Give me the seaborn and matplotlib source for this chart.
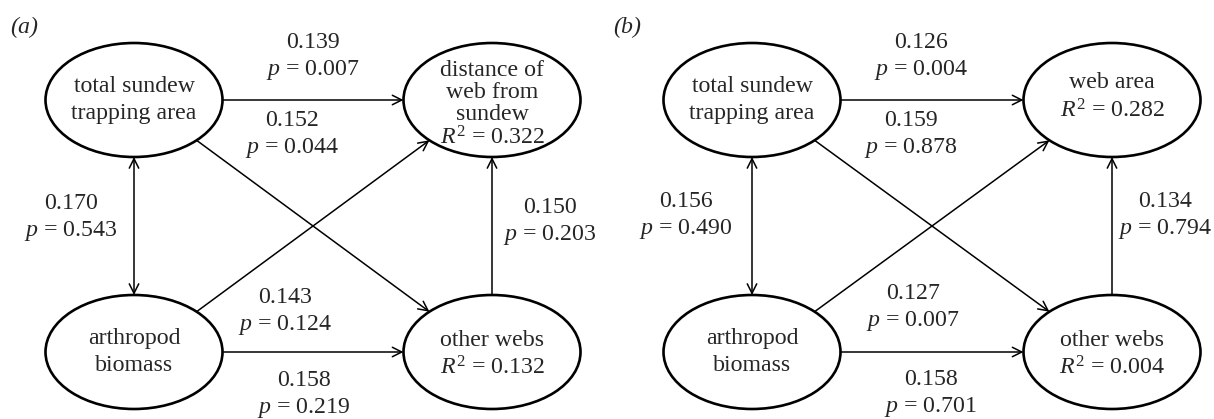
import numpy as np
import matplotlib
matplotlib.use("Agg")
import matplotlib.pyplot as plt
from matplotlib.patches import Ellipse
import seaborn as sns

sns.set_theme(style="white")
plt.rcParams["font.family"] = ["Liberation Serif", "DejaVu Serif"]
plt.rcParams["mathtext.fontset"] = "custom"
plt.rcParams["mathtext.rm"] = "Liberation Serif"
plt.rcParams["mathtext.it"] = "Liberation Serif:italic"

# ---- data ----
panels = ["a", "b"]
response_names = [["distance of", "web from", "sundew"], ["web area"]]
r2_response = [0.322, 0.282]
r2_other = [0.132, 0.004]

# edge labels: (coefficient, p value) per panel
coef_top = [0.139, 0.126]          # sundew -> response
p_top = [0.007, 0.004]
coef_cross_top = [0.152, 0.159]
p_cross_top = [0.044, 0.878]
coef_left = [0.170, 0.156]         # sundew <-> arthropod
p_left = [0.543, 0.490]
coef_right = [0.150, 0.134]        # other webs -> response
p_right = [0.203, 0.794]
coef_cross_bottom = [0.143, 0.127]
p_cross_bottom = [0.124, 0.007]
coef_bottom = [0.158, 0.158]       # arthropod -> other webs
p_bottom = [0.219, 0.701]

# ---- layout (pixel coordinates) ----
W, H = 1214, 419
EW, EH = 177, 114
col_x = [(134, 492), (752, 1112)]
row_y = (100, 352)
label_xy = [
    dict(tag=(24, 27), top=(313, 42), ctop=(292, 120), left=(71, 203),
         right=(550, 207), cbot=(285, 297), bot=(304, 380)),
    dict(tag=(627, 27), top=(921, 42), ctop=(911, 120), left=(686, 201),
         right=(1165, 201), cbot=(913, 293), bot=(931, 379)),
]
FS = 17.2
LINE_GAP = 28

fig = plt.figure(figsize=(W / 100, H / 100), dpi=100)
ax = fig.add_axes([0, 0, 1, 1])
ax.set_xlim(0, W)
ax.set_ylim(H, 0)
ax.axis("off")


def on_ellipse(c, t):
    return (c[0] + EW / 2 * np.cos(t), c[1] + EH / 2 * np.sin(t))


def arrow(p0, p1, style="->"):
    ax.annotate("", xy=p1, xytext=p0,
                arrowprops=dict(arrowstyle=style, lw=1.1, color="black",
                                shrinkA=0, shrinkB=0, mutation_scale=17))


def node(c, lines, gap, shift=0):
    ax.add_patch(Ellipse(c, EW, EH, fill=False, lw=1.9, ec="black"))
    n = len(lines)
    for i, s in enumerate(lines):
        extra = 2 if s.startswith("$") and n > 2 else 0
        ax.text(c[0], c[1] + shift + extra + (i - (n - 1) / 2) * gap, s,
                fontsize=FS, ha="center", va="center")


def edge_label(xy, coef, p):
    ax.text(xy[0], xy[1], f"{coef:.3f}", fontsize=FS, ha="center", va="center")
    ax.text(xy[0], xy[1] + LINE_GAP, f"$p$ = {p:.3f}", fontsize=FS,
            ha="center", va="center")


for k, tag in enumerate(panels):
    xl, xr = col_x[k]
    yt, yb = row_y
    sun, resp = (xl, yt), (xr, yt)
    arth, other = (xl, yb), (xr, yb)
    L = label_xy[k]

    ax.text(*L["tag"], f"({tag})", fontsize=FS, style="italic",
            ha="center", va="center")

    node(sun, ["total sundew", "trapping area"], 27)
    rlines = response_names[k] + [f"$R^{{\\mathrm{{2}}}}$ = {r2_response[k]:.3f}"]
    if len(rlines) > 2:
        node(resp, rlines, 22, shift=3)
    else:
        node(resp, rlines, 28, shift=-3)
    node(arth, ["arthropod", "biomass"], 27)
    node(other, ["other webs", f"$R^{{\\mathrm{{2}}}}$ = {r2_other[k]:.3f}"], 28,
         shift=2)

    arrow(on_ellipse(sun, 0), on_ellipse(resp, np.pi))
    arrow(on_ellipse(arth, 0), on_ellipse(other, np.pi))
    arrow(on_ellipse(sun, np.pi / 2), on_ellipse(arth, -np.pi / 2), "<->")
    arrow(on_ellipse(other, -np.pi / 2), on_ellipse(resp, np.pi / 2))
    arrow(on_ellipse(sun, np.pi / 4), on_ellipse(other, -3 * np.pi / 4))
    arrow(on_ellipse(arth, -np.pi / 4), on_ellipse(resp, 3 * np.pi / 4))

    edge_label(L["top"], coef_top[k], p_top[k])
    edge_label(L["ctop"], coef_cross_top[k], p_cross_top[k])
    edge_label(L["left"], coef_left[k], p_left[k])
    edge_label(L["right"], coef_right[k], p_right[k])
    edge_label(L["cbot"], coef_cross_bottom[k], p_cross_bottom[k])
    edge_label(L["bot"], coef_bottom[k], p_bottom[k])

fig.savefig("out.png", dpi=100, facecolor="white")
